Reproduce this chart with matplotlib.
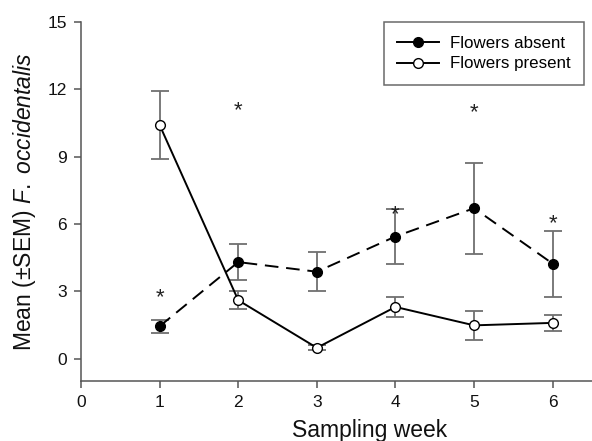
import matplotlib.pyplot as plt
from matplotlib.lines import Line2D

plt.rcParams['font.family'] = ['Liberation Sans', 'DejaVu Sans']
plt.rcParams['mathtext.fontset'] = 'custom'
plt.rcParams['mathtext.rm'] = 'Liberation Sans'
plt.rcParams['mathtext.it'] = 'Liberation Sans:italic'

weeks = [1, 2, 3, 4, 5, 6]

absent_mean = [1.44, 4.30, 3.87, 5.44, 6.70, 4.23]
absent_sem = [0.30, 0.80, 0.88, 1.23, 2.02, 1.47]

present_mean = [10.41, 2.60, 0.48, 2.30, 1.48, 1.59]
present_sem = [1.51, 0.40, 0.12, 0.43, 0.64, 0.34]

star_weeks = [1, 2, 4, 5, 6]
star_y = [2.7, 11.05, 6.4, 10.95, 6.0]

fig = plt.figure(figsize=(5.92, 4.41), dpi=100)
ax = fig.add_axes([81 / 592, 60 / 441, 511 / 592, 359 / 441])

err_col = '#707070'
for m, e in [(absent_mean, absent_sem), (present_mean, present_sem)]:
    ax.errorbar(weeks, m, yerr=e, fmt='none', ecolor=err_col,
                elinewidth=1.3, capsize=6.5, capthick=1.3, zorder=2)

ax.plot(weeks, absent_mean, color='black', lw=1.4, dashes=(7, 4),
        marker='o', ms=7, mfc='black', mec='black', zorder=3)
ax.plot(weeks, present_mean, color='black', lw=1.4, linestyle='-',
        marker='o', ms=7, mfc='white', mec='black', mew=1.0, zorder=3)

for w, y in zip(star_weeks, star_y):
    ax.text(w, y, '*', ha='center', va='center', fontsize=16, color='#222222')

ax.set_xlim(0, 6.5)
ax.set_ylim(-1, 15)
ax.set_xticks([0, 1, 2, 3, 4, 5, 6])
ax.set_yticks([0, 3, 6, 9, 12, 15])

for s in ['top', 'right']:
    ax.spines[s].set_visible(False)
for s in ['left', 'bottom']:
    ax.spines[s].set_color('#555555')
    ax.spines[s].set_linewidth(1.1)
ax.tick_params(direction='out', length=5, width=1.1, color='#555555',
               labelsize=12.5, labelcolor='#111111', pad=5)

ax.set_xlabel('Sampling week', fontsize=16.5, color='#111111')
ax.xaxis.set_label_coords((370 - 81) / 511, -0.105)
ax.set_ylabel(r'Mean ($\pm$SEM) $\mathit{F.\ occidentalis}$', fontsize=16.5,
              color='#111111', labelpad=7)

handles = [
    Line2D([], [], color='black', lw=1.4, marker='o', ms=7, mfc='black', mec='black'),
    Line2D([], [], color='black', lw=1.4, marker='o', ms=7, mfc='white', mec='black'),
]
leg = ax.legend(handles, ['Flowers absent', 'Flowers present'], loc='upper right',
                bbox_to_anchor=(0.984, 1.0), borderaxespad=0, fontsize=12.2,
                frameon=True, fancybox=False, edgecolor='#444444',
                handlelength=2.5, borderpad=0.8, labelspacing=0.35,
                handletextpad=0.6)
leg.get_frame().set_linewidth(1.1)

fig.savefig('out.png', dpi=100)
